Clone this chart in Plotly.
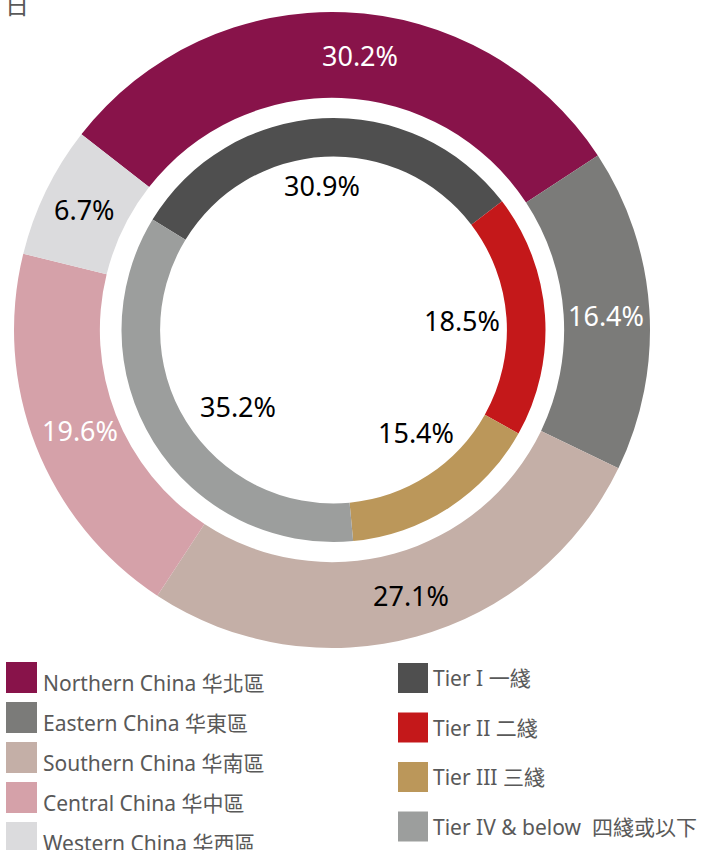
import math
import plotly.graph_objects as go

# Share of stores by region (outer ring) and by city tier (inner ring), in percent
regions = ["Northern China 华北區", "Eastern China 华東區", "Southern China 华南區",
           "Central China 华中區", "Western China 华西區"]
region_share = [30.2, 16.4, 27.1, 19.6, 6.7]

tiers = ["Tier I 一綫", "Tier II 二綫", "Tier III 三綫", "Tier IV & below\u00a0\u00a0四綫或以下"]
tier_share = [30.9, 18.5, 15.4, 35.2]

# Styling
region_colors = ["#88134A", "#7B7B79", "#C4AFA7", "#D5A1A9", "#DBDBDD"]
region_text_colors = ["white", "white", "black", "white", "black"]
tier_colors = ["#4F4F4F", "#C4181A", "#BB975A", "#9C9E9D"]

W, H = 704, 850
FONT = "Noto Sans, Noto Sans CJK TC, sans-serif"
LEGEND_GREY = "#595959"


def px_x(x):
    return x / W


def px_y(y):
    return 1 - y / H


def pie_domain(cx, cy, r):
    return dict(x=[px_x(cx - r), px_x(cx + r)], y=[px_y(cy + r), px_y(cy - r)])


# Ring geometry in pixels
OUT_C, OUT_R, OUT_HOLE, OUT_ROT = (332, 330), 318, 0.73, -52
IN_C, IN_R, IN_HOLE, IN_ROT = (333.5, 330), 212, 0.818, -58.6

fig = go.Figure()
fig.add_trace(go.Pie(
    labels=regions, values=region_share, sort=False, direction="clockwise",
    rotation=OUT_ROT, hole=OUT_HOLE, domain=pie_domain(*OUT_C, OUT_R),
    marker=dict(colors=region_colors, line=dict(width=0)),
    textinfo="none", hoverinfo="label+percent", showlegend=False,
))
fig.add_trace(go.Pie(
    labels=tiers, values=tier_share, sort=False, direction="clockwise",
    rotation=IN_ROT, hole=IN_HOLE, domain=pie_domain(*IN_C, IN_R),
    marker=dict(colors=tier_colors, line=dict(width=0)),
    textinfo="none", hoverinfo="label+percent", showlegend=False,
))

annotations = []


def ring_labels(values, rotation, center, radius, colors, nudges):
    total = sum(values)
    start = rotation
    for v, col, (dx, dy) in zip(values, colors, nudges):
        span = 360 * v / total
        mid = math.radians(start + span / 2)
        start += span
        x = center[0] + radius * math.sin(mid) + dx
        y = center[1] - radius * math.cos(mid) + dy
        annotations.append(dict(
            x=px_x(x), y=px_y(y), xref="paper", yref="paper",
            text=f"{v:.1f}%", showarrow=False, xanchor="center", yanchor="middle",
            font=dict(family=FONT, size=27, color=col),
        ))


# Percent labels: outer ones sit in the ring, inner ones inside the hole
ring_labels(region_share, OUT_ROT, OUT_C, 275, region_text_colors,
            [(17, 0), (0, 4), (6, 0), (4, 0), (0, 0)])
ring_labels(tier_share, IN_ROT, IN_C, 138, ["black"] * 4,
            [(-4, -7), (-9, 0), (7, -13), (22, 3)])

# Hand-drawn legends: square swatches with labels, two columns
shapes = []


def legend_column(names, colors, x0, top0, step, size, text_x, text_dy):
    for i, (name, col) in enumerate(zip(names, colors)):
        top = top0 + i * step
        shapes.append(dict(
            type="rect", xref="paper", yref="paper",
            x0=px_x(x0), x1=px_x(x0 + size), y0=px_y(top + size), y1=px_y(top),
            fillcolor=col, line=dict(width=0),
        ))
        annotations.append(dict(
            x=px_x(text_x), y=px_y(top + size / 2 + text_dy), xref="paper", yref="paper",
            text=name, showarrow=False, xanchor="left", yanchor="middle",
            font=dict(family=FONT, size=21, color=LEGEND_GREY),
        ))


legend_column(regions, region_colors, 6, 662, 40, 31, 41, 5)
legend_column(tiers, tier_colors, 398, 663, 49.5, 30, 431, 0)

# Heading glyph clipped at the top-left edge
annotations.append(dict(
    x=px_x(3), y=px_y(4), xref="paper", yref="paper", text="日", showarrow=False,
    xanchor="left", yanchor="middle",
    font=dict(family=FONT, size=24, color=LEGEND_GREY),
))

fig.update_layout(
    width=W, height=H, margin=dict(l=0, r=0, t=0, b=0),
    paper_bgcolor="white", plot_bgcolor="white",
    shapes=shapes, annotations=annotations,
)

fig.write_html("out.html", config={"displayModeBar": False})
